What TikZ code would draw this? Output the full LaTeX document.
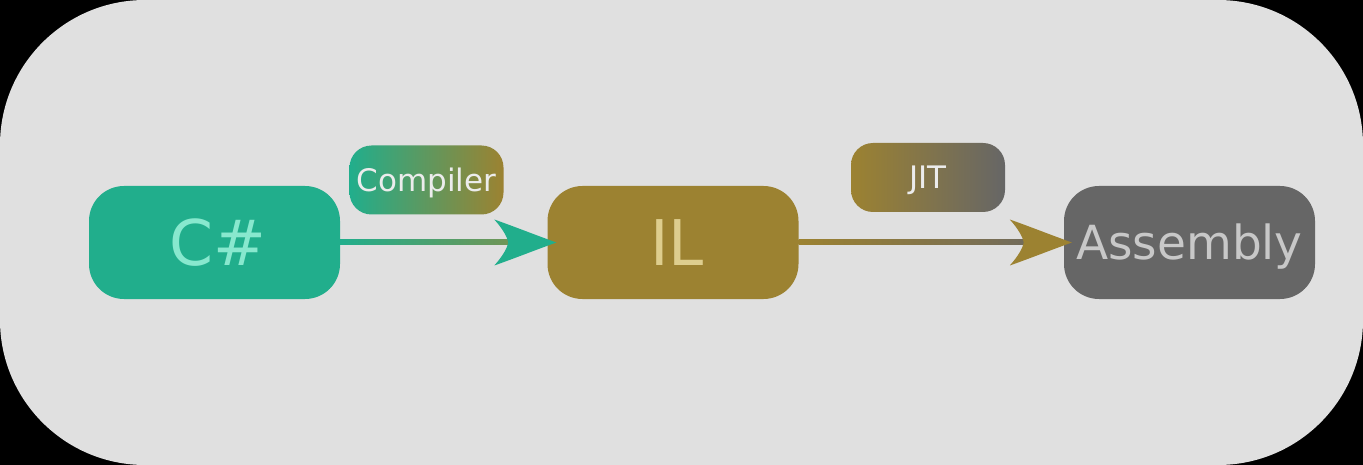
\documentclass[tikz,border=0pt]{standalone}
\usepackage{fontspec}
\setmainfont{DejaVu Sans}
\usetikzlibrary{calc}
\definecolor{bgc}{RGB}{224,224,224}
\definecolor{tealc}{RGB}{33,174,140}
\definecolor{olivec}{RGB}{156,130,49}
\definecolor{grayc}{RGB}{102,102,102}
\definecolor{cstext}{RGB}{136,232,206}
\definecolor{iltext}{RGB}{222,206,142}
\definecolor{astext}{RGB}{200,200,200}
\definecolor{labtext}{RGB}{236,236,236}
\definecolor{shaftmid}{RGB}{116,148,84}
\definecolor{shaftend}{RGB}{112,106,92}
\tikzset{
  box/.style={rounded corners=35pt, minimum width=251pt, minimum height=113pt,
    inner sep=0pt, text depth=0pt},
  lab/.style={rounded corners=22pt, minimum width=154pt, minimum height=69pt,
    inner sep=0pt, text height=22.6pt, text depth=0pt,
    font=\fontsize{31}{36}\selectfont, text=labtext},
  ahead/.pic={\path[pic actions] (0,0) .. controls (-22,-8) and (-45,-17) .. (-62,-23)
     .. controls (-53,-13) and (-49,-5) .. (-48,0)
     .. controls (-49,5) and (-53,13) .. (-62,23)
     .. controls (-45,17) and (-22,8) .. (0,0) -- cycle;}
}
\begin{document}
\begin{tikzpicture}[x=1pt,y=-1pt]
\useasboundingbox (0,0) rectangle (1363,465);
\fill[black] (0,0) rectangle (1363,465);
\fill[bgc, rounded corners=145pt] (0,0) rectangle (1363,465);

\node[box, fill=tealc, text=cstext, text height=45.9pt, font=\fontsize{63}{72}\selectfont] (cs) at (214.5,242.5) {\hspace*{7pt}C\#};
\node[box, fill=olivec, text=iltext, text height=45.9pt, font=\fontsize{63}{72}\selectfont] (il) at (673,242.5) {\hspace*{8pt}IL};
\node[box, fill=grayc, text=astext, text height=34.3pt, font=\fontsize{47}{56}\selectfont] (as) at (1189.5,242.5) {Assembly};

\node[lab, left color=tealc, right color=olivec] (comp) at (426.5,180) {Compiler};
\node[lab, left color=olivec, right color=grayc] (jit) at (928,177.5) {JIT};

\coordinate (t1) at ($(il.west)+(9,0)$);
\coordinate (t2) at ($(as.west)+(8,0)$);
\shade[left color=tealc, right color=shaftmid] ($(cs.east)+(0,-2.5)$) rectangle ($(t1)+(-40,2.5)$);
\pic[fill=tealc] at (t1) {ahead};
\shade[left color=olivec, right color=shaftend] ($(il.east)+(0,-2.5)$) rectangle ($(t2)+(-40,2.5)$);
\pic[fill=olivec] at (t2) {ahead};
\end{tikzpicture}
\end{document}
